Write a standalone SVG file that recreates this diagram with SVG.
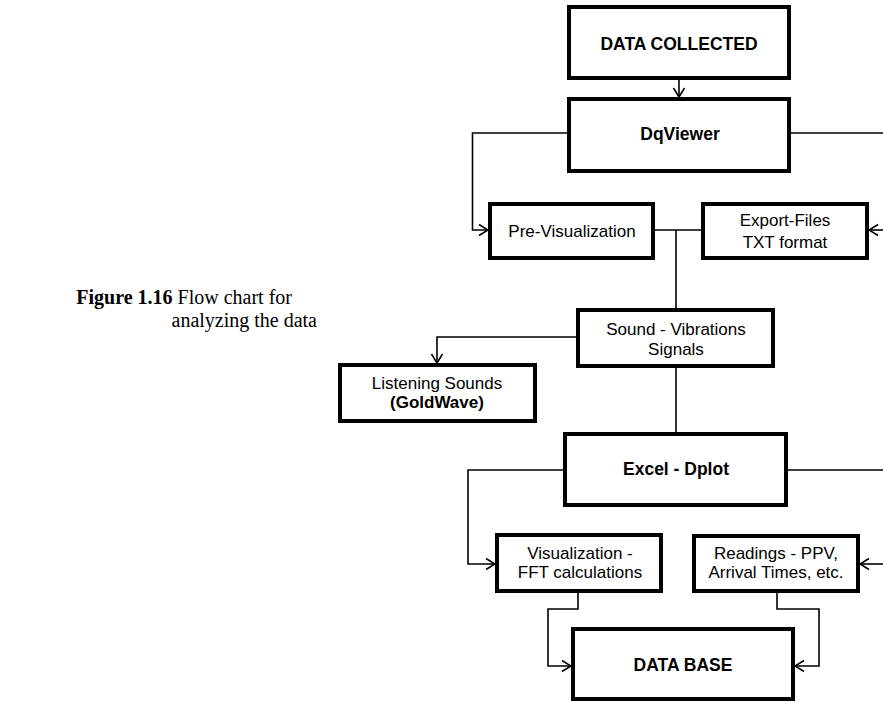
<svg xmlns="http://www.w3.org/2000/svg" width="883" height="702" viewBox="0 0 883 702">
  <style>
    .box { fill: #ffffff; stroke: #000000; stroke-width: 4; }
    .lbl { font-family: "Liberation Sans", Arial, sans-serif; font-size: 17px; fill: #000000; text-anchor: middle; }
    .bold { font-weight: bold; font-size: 17.5px; }
    .wire { fill: none; stroke: #000000; stroke-width: 1.6; }
    .cap { font-family: "Liberation Serif", "Times New Roman", serif; font-size: 20px; fill: #000000; text-anchor: end; }
  </style>
  <defs>
    <marker id="arrow" markerUnits="userSpaceOnUse" viewBox="-11 -7 12 14" refX="0" refY="0" markerWidth="12" markerHeight="14" orient="auto">
      <path d="M-9,-5.5 L0,0 L-9,5.5" fill="none" stroke="#000000" stroke-width="1.6"/>
    </marker>
  </defs>

  <!-- caption -->
  <g id="caption">
    <text class="cap" x="292" y="304"><tspan font-weight="bold">Figure 1.16</tspan> Flow chart for</text>
    <text class="cap" x="317" y="327">analyzing the data</text>
  </g>

  <!-- connectors -->
  <g id="connectors">
    <path class="wire" d="M679,80 L679,97" marker-end="url(#arrow)"/>
    <path class="wire" d="M567,133 L472.5,133 L472.5,230 L488,230" marker-end="url(#arrow)"/>
    <path class="wire" d="M791,133 L883,133"/>
    <path class="wire" d="M883,230 L869,230" marker-end="url(#arrow)"/>
    <path class="wire" d="M655,230 L701,230"/>
    <path class="wire" d="M676,230 L676,308"/>
    <path class="wire" d="M576,337 L437,337 L437,363" marker-end="url(#arrow)"/>
    <path class="wire" d="M676,368 L676,432"/>
    <path class="wire" d="M563,470 L468,470 L468,564 L495,564" marker-end="url(#arrow)"/>
    <path class="wire" d="M788,470 L883,470"/>
    <path class="wire" d="M883,564 L860,564" marker-end="url(#arrow)"/>
    <path class="wire" d="M578,593 L578,609 L548,609 L548,666 L571,666" marker-end="url(#arrow)"/>
    <path class="wire" d="M777,593 L777,609 L819,609 L819,666 L795,666" marker-end="url(#arrow)"/>
  </g>

  <!-- nodes -->
  <g id="data-collected">
    <rect class="box" x="569" y="7" width="220" height="71"/>
    <text class="lbl bold" x="679" y="50">DATA COLLECTED</text>
  </g>
  <g id="dqviewer">
    <rect class="box" x="569" y="99" width="220" height="72"/>
    <text class="lbl bold" x="680" y="140">DqViewer</text>
  </g>
  <g id="pre-visualization">
    <rect class="box" x="490" y="204" width="163" height="54"/>
    <text class="lbl" x="572" y="237">Pre-Visualization</text>
  </g>
  <g id="export-files">
    <rect class="box" x="703" y="204" width="164" height="54"/>
    <text class="lbl" x="785" y="226">Export-Files</text>
    <text class="lbl" x="785" y="248">TXT format</text>
  </g>
  <g id="sound-vibrations">
    <rect class="box" x="578" y="310" width="195" height="56"/>
    <text class="lbl" x="676" y="335">Sound - Vibrations</text>
    <text class="lbl" x="676" y="355">Signals</text>
  </g>
  <g id="listening-sounds">
    <rect class="box" x="340" y="365" width="195" height="56"/>
    <text class="lbl" x="437" y="389">Listening Sounds</text>
    <text class="lbl" x="437" y="408" font-weight="bold">(GoldWave)</text>
  </g>
  <g id="excel-dplot">
    <rect class="box" x="565" y="434" width="221" height="71"/>
    <text class="lbl bold" x="676" y="475">Excel - Dplot</text>
  </g>
  <g id="visualization-fft">
    <rect class="box" x="497" y="535" width="164" height="56"/>
    <text class="lbl" x="580" y="559">Visualization -</text>
    <text class="lbl" x="580" y="578">FFT calculations</text>
  </g>
  <g id="readings">
    <rect class="box" x="694" y="536" width="164" height="55"/>
    <text class="lbl" x="776" y="559">Readings - PPV,</text>
    <text class="lbl" x="776" y="578">Arrival Times, etc.</text>
  </g>
  <g id="data-base">
    <rect class="box" x="573" y="629" width="220" height="70"/>
    <text class="lbl bold" x="683" y="671">DATA BASE</text>
  </g>
</svg>
